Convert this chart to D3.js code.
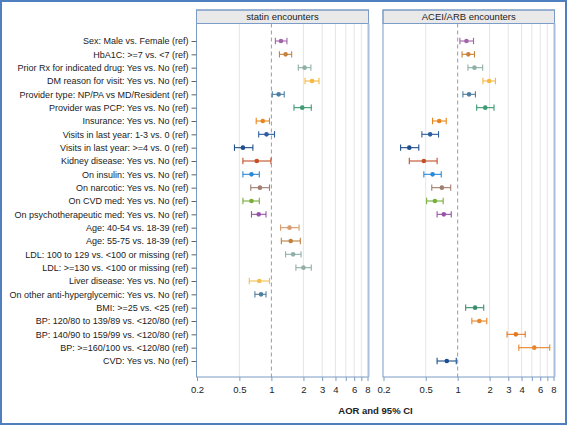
<!DOCTYPE html>
<html><head><meta charset="utf-8">
<script src="https://cdn.jsdelivr.net/npm/d3@7"></script>
<style>
html,body{margin:0;padding:0;background:#fff;}
svg{display:block;font-family:"Liberation Sans",Arial,sans-serif;}
</style></head>
<body>
<svg id="chart" width="567" height="425"></svg>
<script>
const categories = [
  "Sex: Male vs. Female (ref)",
  "HbA1C: >=7 vs. <7 (ref)",
  "Prior Rx for indicated drug: Yes vs. No (ref)",
  "DM reason for visit: Yes vs. No (ref)",
  "Provider type: NP/PA vs MD/Resident (ref)",
  "Provider was PCP: Yes vs. No (ref)",
  "Insurance: Yes vs. No (ref)",
  "Visits in last year: 1-3 vs. 0 (ref)",
  "Visits in last year: >=4 vs. 0 (ref)",
  "Kidney disease: Yes vs. No (ref)",
  "On insulin: Yes vs. No (ref)",
  "On narcotic: Yes vs. No (ref)",
  "On CVD med: Yes vs. No (ref)",
  "On psychotherapeutic med: Yes vs. No (ref)",
  "Age: 40-54 vs. 18-39 (ref)",
  "Age: 55-75 vs. 18-39 (ref)",
  "LDL: 100 to 129 vs. <100 or missing (ref)",
  "LDL: >=130 vs. <100 or missing (ref)",
  "Liver disease: Yes vs. No (ref)",
  "On other anti-hyperglycemic: Yes vs. No (ref)",
  "BMI: >=25 vs. <25 (ref)",
  "BP: 120/80 to 139/89 vs. <120/80 (ref)",
  "BP: 140/90 to 159/99 vs. <120/80 (ref)",
  "BP: >=160/100 vs. <120/80 (ref)",
  "CVD: Yes vs. No (ref)"
];
const panels = ["statin encounters", "ACEI/ARB encounters"];
const statinOR = [1.23,1.36,2.05,2.41,1.17,1.95,0.83,0.90,0.54,0.73,0.65,0.78,0.65,0.76,1.48,1.52,1.60,2.00,0.77,0.80,null,null,null,null,null];
const statinLo = [1.09,1.19,1.79,2.07,1.02,1.63,0.72,0.76,0.45,0.54,0.54,0.64,0.54,0.65,1.22,1.24,1.36,1.70,0.62,0.70,null,null,null,null,null];
const statinHi = [1.40,1.55,2.35,2.80,1.32,2.37,0.96,1.07,0.67,0.99,0.77,0.96,0.77,0.89,1.82,1.87,1.90,2.37,0.96,0.89,null,null,null,null,null];
const aceOR = [1.21,1.26,1.44,1.98,1.28,1.82,0.67,0.55,0.35,0.48,0.58,0.71,0.61,0.74,null,null,null,null,null,null,1.46,1.60,3.53,5.27,0.79];
const aceLo = [1.05,1.10,1.25,1.73,1.12,1.51,0.58,0.46,0.29,0.35,0.48,0.57,0.51,0.64,null,null,null,null,null,null,1.19,1.36,2.92,3.77,0.64];
const aceHi = [1.41,1.44,1.72,2.27,1.47,2.20,0.78,0.66,0.43,0.64,0.70,0.86,0.73,0.87,null,null,null,null,null,null,1.76,1.88,4.33,7.37,0.97];
const rowColors = ["#a065a8","#c8823c","#8fb0a4","#f5b942","#4e7fa3","#3d9a72","#e8861e","#2c5f9e","#1f4f8a","#c4502a","#2b8ad6","#a07e6e","#78ae3c","#9a52a8","#d99a6c","#c0803e","#8fb0a8","#93aea4","#f2c04e","#4f7f9e","#3a8f6e","#e8862a","#e27a24","#e8842c","#1b4f8f"];
const tickValues = [0.2,0.5,1,2,3,4,5,6,7,8];
const tickLabels = ["0.2","0.5","1","2","3","4","6","8"];

const svg = d3.select("#chart");
// outer frame
svg.append("rect").attr("x",1).attr("y",1).attr("width",565).attr("height",423)
  .attr("fill","none").attr("stroke","#4f7fbf").attr("stroke-width",2);

const panelTop = 10, headerH = 13.5, panelBottom = 377;
const panelX = [[196.5,368.5],[383,554.5]];
const y = d3.scalePoint().domain(categories).range([41,361]);

const seriesData = [
  categories.map((c,i)=>({c, or:statinOR[i], lo:statinLo[i], hi:statinHi[i], col:rowColors[i]})),
  categories.map((c,i)=>({c, or:aceOR[i], lo:aceLo[i], hi:aceHi[i], col:rowColors[i]}))
];

panels.forEach((name, p) => {
  const [x0,x1] = panelX[p];
  const x = d3.scaleLog().domain([0.2,8]).range([x0+0.5,x1-1]);
  const g = svg.append("g");
  // gridlines
  g.selectAll("line.grid").data(tickValues.filter(v=>v!==1 && v!==0.2 && v!==8)).join("line")
    .attr("x1",d=>x(d)).attr("x2",d=>x(d)).attr("y1",panelTop+headerH).attr("y2",panelBottom)
    .attr("stroke","#e6e6ea").attr("stroke-width",1);
  // reference line
  g.append("line").attr("x1",x(1)).attr("x2",x(1)).attr("y1",panelTop+headerH).attr("y2",panelBottom)
    .attr("stroke","#9a9aa6").attr("stroke-width",1).attr("stroke-dasharray","4,3");
  // header
  g.append("rect").attr("x",x0).attr("y",panelTop).attr("width",x1-x0).attr("height",headerH)
    .attr("fill","#e9e9e9").attr("stroke","#7b9cc6").attr("stroke-width",1);
  g.append("text").attr("x",(x0+x1)/2).attr("y",panelTop+headerH/2+3.3).attr("text-anchor","middle")
    .attr("font-size",9.5).attr("fill","#222").text(name);
  // panel frame
  g.append("rect").attr("x",x0).attr("y",panelTop).attr("width",x1-x0).attr("height",panelBottom-panelTop)
    .attr("fill","none").attr("stroke","#7b9cc6").attr("stroke-width",1);
  g.append("line").attr("x1",x1).attr("x2",x1).attr("y1",panelTop+headerH).attr("y2",panelBottom)
    .attr("stroke","#a9bfdc").attr("stroke-width",2);
  // x axis
  const ax = d3.axisBottom(x).tickValues(tickValues).tickSize(4)
    .tickFormat(d => tickLabels.includes(String(d)) ? String(d) : "");
  const axg = g.append("g").attr("transform",`translate(0,${panelBottom})`).call(ax);
  axg.select(".domain").remove();
  axg.selectAll(".tick line").attr("stroke","#7b9cc6");
  axg.selectAll(".tick text").attr("font-size",9.5).attr("fill","#222")
    .attr("font-family","Liberation Sans, Arial, sans-serif").attr("dy","0.9em");
  // error bars
  const d = seriesData[p].filter(r=>r.or!==null);
  const rows = g.selectAll("g.row").data(d).join("g").attr("class","row");
  rows.append("line").attr("x1",r=>x(r.lo)).attr("x2",r=>x(r.hi)).attr("y1",r=>y(r.c)).attr("y2",r=>y(r.c))
    .attr("stroke",r=>r.col).attr("stroke-width",1.1);
  rows.append("line").attr("x1",r=>x(r.lo)).attr("x2",r=>x(r.lo)).attr("y1",r=>y(r.c)-3.2).attr("y2",r=>y(r.c)+3.2)
    .attr("stroke",r=>r.col).attr("stroke-width",1.1);
  rows.append("line").attr("x1",r=>x(r.hi)).attr("x2",r=>x(r.hi)).attr("y1",r=>y(r.c)-3.2).attr("y2",r=>y(r.c)+3.2)
    .attr("stroke",r=>r.col).attr("stroke-width",1.1);
  rows.append("circle").attr("cx",r=>x(r.or)).attr("cy",r=>y(r.c)).attr("r",2.3).attr("fill",r=>r.col);

  if (p===0) {
    const ay = d3.axisLeft(y).tickSize(5).tickPadding(3);
    const ayg = g.append("g").attr("transform",`translate(${x0},0)`).call(ay);
    ayg.select(".domain").remove();
    ayg.selectAll(".tick line").attr("stroke","#666");
    ayg.selectAll(".tick text").attr("font-size",9).attr("fill","#222")
      .attr("font-family","Liberation Sans, Arial, sans-serif");
  }
});

svg.append("text").attr("x",(panelX[0][0]+panelX[1][1])/2).attr("y",414).attr("text-anchor","middle")
  .attr("font-size",9.5).attr("font-weight","bold").attr("fill","#222").text("AOR and 95% CI");
</script>
</body></html>
